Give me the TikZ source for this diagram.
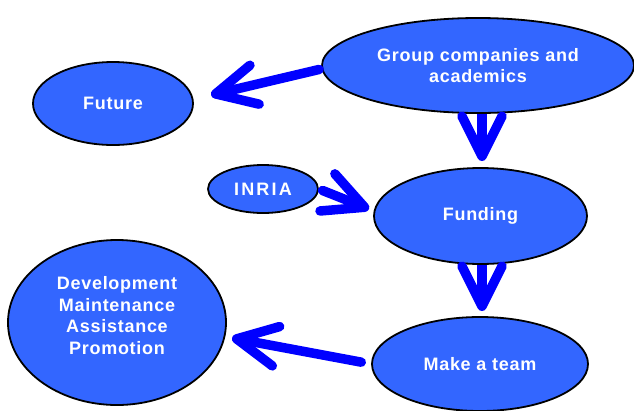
\documentclass[tikz,border=0pt]{standalone}
\usepackage{fontspec}
\setmainfont{Liberation Sans}[LetterSpace=4]
\usetikzlibrary{shapes.geometric,arrows.meta}
\definecolor{nodeblue}{RGB}{51,102,255}
\definecolor{arrowblue}{RGB}{0,0,255}
\begin{document}
\begin{tikzpicture}[x=1pt,y=-1pt,
  blobtext/.style={text=white, font=\bfseries\fontsize{18}{21.5}\selectfont, align=center, inner sep=0pt},
  blob/.style={ellipse, draw=black, line width=1.8pt, fill=nodeblue, blobtext},
  bigarrow/.style={draw=arrowblue, line width=9.5pt, line cap=round,
    -{Straight Barb[length=40pt, width=40pt, round]}}]
\useasboundingbox (0,0) rectangle (634,410);
\clip (0,0) rectangle (634,410);
\node[blob, minimum width=312pt, minimum height=95pt] (grp) at (478,65.5) {Group companies and\\academics};
\node[blob, minimum width=160pt, minimum height=83pt] (fut) at (113,103.5) {Future};
\node[blob, minimum width=110pt, minimum height=48pt] (inria) at (263,189) {\addfontfeature{LetterSpace=12}INRIA};
\node[blob, minimum width=213pt, minimum height=96pt, yshift=-2pt] (fund) at (480.5,214) {Funding};
\node[blob, minimum width=216pt, minimum height=94pt] (team) at (480,364) {Make a team};
\node[blob, minimum width=218pt, minimum height=165pt,
  label={[name=devtext, blobtext, yshift=7pt]center:Development\\Maintenance\\Assistance\\Promotion}] (dev) at (117,322.5) {};
\coordinate (t1) at (211,95);
\coordinate (t2) at (369,209);
\coordinate (t3) at (482,161);
\coordinate (t4) at (482,311);
\coordinate (t5) at (232,338);
\draw[bigarrow, shorten <=2pt] ([yshift=-3.5pt]grp.west) -- (t1);
\draw[bigarrow, shorten <=4pt] (inria.east) -- (t2);
\draw[bigarrow, line cap=butt] ([xshift=4pt]grp.south) -- (t3);
\draw[bigarrow, line cap=butt] ([xshift=1.5pt]fund.south) -- (t4);
\draw[bigarrow, shorten <=10pt] (team.west) -- (t5);
\end{tikzpicture}
\end{document}
